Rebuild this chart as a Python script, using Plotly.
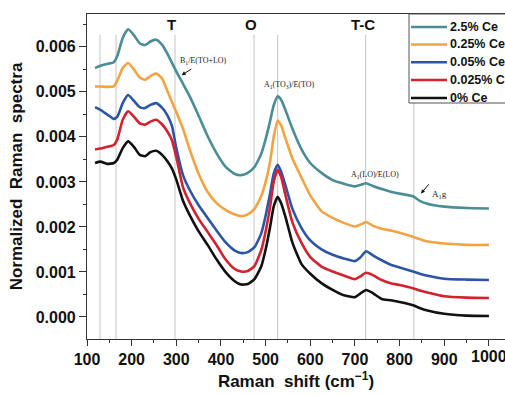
import plotly.graph_objects as go

shift = [118, 130, 145, 160, 168, 180, 192, 205, 218, 230, 242, 255, 268, 280, 290, 300,
         315, 330, 350, 370, 390, 410, 430, 445, 460, 475, 490, 500, 510, 518, 527, 535,
         545, 560, 580, 600, 625, 650, 675, 700, 712, 725, 740, 760, 780, 800, 830, 845,
         860, 900, 950, 1000]

ce_2_5 = [0.00553, 0.00558, 0.00562, 0.00566, 0.00580, 0.00620, 0.00639, 0.00626, 0.00608, 0.00604,
          0.00612, 0.00616, 0.00605, 0.00585, 0.00565, 0.00545, 0.00518, 0.00490, 0.00447, 0.00402,
          0.00364, 0.00334, 0.00318, 0.00315, 0.00320, 0.00333, 0.00362, 0.00395, 0.00435, 0.00470,
          0.00490, 0.00482, 0.00458, 0.00418, 0.00373, 0.00342, 0.00320, 0.00304, 0.00296, 0.00290,
          0.00293, 0.00297, 0.00291, 0.00284, 0.00278, 0.00274, 0.00268, 0.00258, 0.00252, 0.00245,
          0.00242, 0.00241]
ce_0_25 = [0.00512, 0.00512, 0.00511, 0.00512, 0.00525, 0.00553, 0.00564, 0.00550, 0.00532, 0.00527,
           0.00535, 0.00541, 0.00530, 0.00502, 0.00478, 0.00455, 0.00418, 0.00372, 0.00318, 0.00278,
           0.00253, 0.00238, 0.00228, 0.00224, 0.00228, 0.00240, 0.00268, 0.00300, 0.00345, 0.00400,
           0.00436, 0.00425, 0.00395, 0.00352, 0.00310, 0.00270, 0.00235, 0.00220, 0.00209, 0.00201,
           0.00205, 0.00211, 0.00203, 0.00196, 0.00192, 0.00187, 0.00178, 0.00173, 0.00168, 0.00163,
           0.00160, 0.00160]
ce_0_05 = [0.00466, 0.00460, 0.00450, 0.00440, 0.00445, 0.00475, 0.00493, 0.00480, 0.00466, 0.00464,
           0.00471, 0.00475, 0.00465, 0.00448, 0.00425, 0.00375, 0.00315, 0.00282, 0.00248, 0.00220,
           0.00192, 0.00166, 0.00148, 0.00142, 0.00144, 0.00155, 0.00185, 0.00225, 0.00275, 0.00318,
           0.00338, 0.00322, 0.00290, 0.00240, 0.00198, 0.00170, 0.00150, 0.00138, 0.00130, 0.00124,
           0.00132, 0.00146, 0.00137, 0.00126, 0.00116, 0.00110, 0.00101, 0.00096, 0.00092, 0.00085,
           0.00083, 0.00082]
ce_0_025 = [0.00372, 0.00374, 0.00378, 0.00382, 0.00395, 0.00438, 0.00457, 0.00445, 0.00430, 0.00427,
            0.00434, 0.00438, 0.00428, 0.00412, 0.00393, 0.00355, 0.00288, 0.00254, 0.00218, 0.00189,
            0.00160, 0.00128, 0.00107, 0.00101, 0.00102, 0.00113, 0.00148, 0.00190, 0.00245, 0.00300,
            0.00327, 0.00310, 0.00268, 0.00210, 0.00165, 0.00133, 0.00112, 0.00101, 0.00092, 0.00084,
            0.00090, 0.00098, 0.00093, 0.00082, 0.00075, 0.00071, 0.00064, 0.00059, 0.00055, 0.00046,
            0.00043, 0.00042]
ce_0 = [0.00342, 0.00345, 0.00340, 0.00342, 0.00350, 0.00375, 0.00390, 0.00378, 0.00360, 0.00357,
        0.00366, 0.00369, 0.00360, 0.00346, 0.00330, 0.00305, 0.00258, 0.00226, 0.00190, 0.00160,
        0.00128, 0.00100, 0.00080, 0.00072, 0.00073, 0.00084, 0.00112, 0.00150, 0.00200, 0.00245,
        0.00267, 0.00252, 0.00220, 0.00165, 0.00118, 0.00096, 0.00075, 0.00060, 0.00048, 0.00044,
        0.00052, 0.00060, 0.00053, 0.00040, 0.00037, 0.00033, 0.00026, 0.00020, 0.00015, 0.00007,
        0.00003, 0.00002]

series_names = ["2.5% Ce", "0.25% Ce", "0.05% Ce", "0.025% Ce", "0% Ce"]
series_values = [ce_2_5, ce_0_25, ce_0_05, ce_0_025, ce_0]
colors = ["#4b8d94", "#f3a343", "#2c55a6", "#d3212e", "#111111"]

guide_lines = [129, 165, 297, 474, 527, 724, 832]
phase_labels = ["T", "O", "T-C"]
phase_x = [290, 467, 718]

x_ticks = [100, 200, 300, 400, 500, 600, 700, 800, 900, 1000]

FONT = "Arial, Liberation Sans, sans-serif"
SERIF = "Times New Roman, Liberation Serif, serif"

W, H = 505, 395
ML, MR, MT, MB = 87, 0, 14, 56
PW, PH = W - ML - MR, H - MT - MB


def px_x(p):
    return (p - ML) / PW


def px_y(p):
    return (H - MB - p) / PH


fig = go.Figure()

for name, vals, col in zip(series_names, series_values, colors):
    fig.add_trace(go.Scatter(x=shift, y=vals, mode="lines", name=name, showlegend=False,
                             line=dict(color=col, width=2.6, shape="spline", smoothing=0.5)))

y_top_line = 0.00627
for gx in guide_lines:
    fig.add_shape(type="line", x0=gx, x1=gx, y0=-0.00049, y1=y_top_line, xref="x", yref="y",
                  line=dict(color="#c4c4c4", width=1), layer="below")

for lab, lx in zip(phase_labels, phase_x):
    fig.add_annotation(x=lx, y=0.00649, text="<b>%s</b>" % lab, showarrow=False,
                       font=dict(family=FONT, size=15, color="#111"))

# mode annotations
fig.add_annotation(x=304, y=0.00569, text="B<sub>1</sub>/E(TO+LO)", showarrow=False,
                   xanchor="left", font=dict(family=SERIF, size=8, color="#222"))
fig.add_annotation(x=312, y=0.00537, ax=337, ay=0.00553, xref="x", yref="y", axref="x", ayref="y",
                   text="", showarrow=True, arrowhead=2, arrowsize=0.8, arrowwidth=1, arrowcolor="#111")
fig.add_annotation(x=554, y=0.00516, text="A<sub>1</sub>(TO<sub>3</sub>)/E(TO)", showarrow=False,
                   font=dict(family=SERIF, size=8, color="#222"))
fig.add_annotation(x=745, y=0.00316, text="A<sub>1</sub>(LO)/E(LO)", showarrow=False,
                   font=dict(family=SERIF, size=8, color="#222"))
fig.add_annotation(x=848, y=0.00274, ax=868, ay=0.00298, xref="x", yref="y", axref="x", ayref="y",
                   text="", showarrow=True, arrowhead=2, arrowsize=0.8, arrowwidth=1, arrowcolor="#111")
fig.add_annotation(x=869, y=0.00272, text="A<sub>1</sub>g", showarrow=False, xanchor="left",
                   font=dict(family=SERIF, size=9, color="#222"))

# last x tick label, which runs past the right edge as in the reference
fig.add_annotation(x=x_ticks[-1], xref="x", y=0, yref="paper", yanchor="top", yshift=-7,
                   text="<b>%d</b>" % x_ticks[-1], showarrow=False,
                   font=dict(family=FONT, size=16, color="#111"))

# manual legend (box runs past the right edge as in the reference)
fig.add_shape(type="rect", xref="paper", yref="paper",
              x0=px_x(409), x1=px_x(520), y0=px_y(103), y1=px_y(14),
              fillcolor="white", line=dict(color="#555", width=1), layer="above")
row_y = [27, 44.5, 62.3, 80, 98]
for name, col, ry in zip(series_names, colors, row_y):
    fig.add_shape(type="line", xref="paper", yref="paper",
                  x0=px_x(411), x1=px_x(447), y0=px_y(ry), y1=px_y(ry),
                  line=dict(color=col, width=2.6), layer="above")
    fig.add_annotation(xref="paper", yref="paper", x=px_x(448), y=px_y(ry), text="<b>%s</b>" % name,
                       showarrow=False, xanchor="left", yanchor="middle",
                       font=dict(family=FONT, size=12.5, color="#111"))

fig.update_layout(
    width=W, height=H,
    margin=dict(l=ML, r=MR, t=MT, b=MB),
    paper_bgcolor="white", plot_bgcolor="white",
    font=dict(family=FONT, color="#111"),
    showlegend=False,
    xaxis=dict(range=[100, 1036], tickvals=x_ticks, showline=True, linecolor="#333", linewidth=1.2,
               mirror=True, ticks="outside", ticklen=6, tickwidth=1.2, tickcolor="#333",
               minor=dict(ticks="outside", ticklen=3, dtick=50, tick0=0, tickcolor="#333"),
               showgrid=False, zeroline=False,
               tickfont=dict(family=FONT, size=16, color="#111", weight="bold"),
               title=dict(text="<b>Raman  shift (cm<sup>−1</sup>)</b>", standoff=7,
                          font=dict(family=FONT, size=17, color="#111"))),
    yaxis=dict(range=[-0.00049, 0.00673], dtick=0.001, tick0=0, tickformat=".3f",
               showline=True, linecolor="#333", linewidth=1.2, mirror=True,
               ticks="outside", ticklen=7, tickwidth=1.2, tickcolor="#333",
               minor=dict(ticks="outside", ticklen=3, dtick=0.0005, tick0=0, tickcolor="#333"),
               showgrid=False, zeroline=False,
               tickfont=dict(family=FONT, size=16, color="#111", weight="bold"),
               title=dict(text="<b>Normalized  Raman  spectra</b>", standoff=8,
                          font=dict(family=FONT, size=17, color="#111"))),
)

fig.write_html("out.html")
